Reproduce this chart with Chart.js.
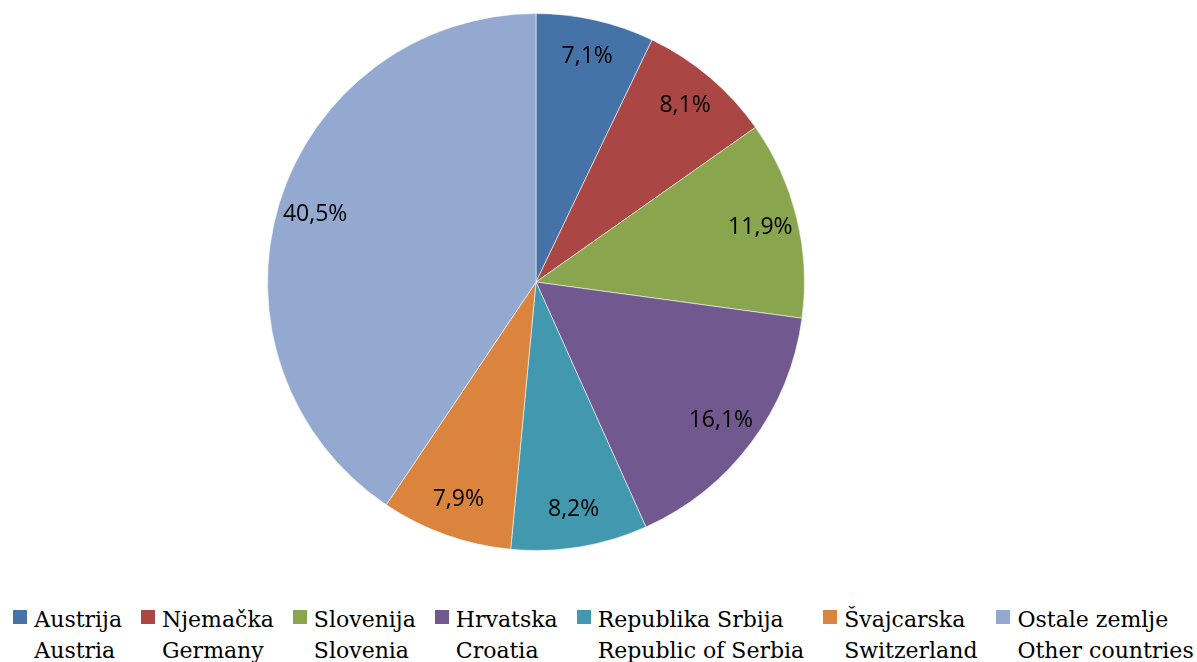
<!DOCTYPE html>
<html>
<head>
<meta charset="utf-8">
<script src="https://cdn.jsdelivr.net/npm/chart.js@4"></script>
<style>
  html, body { margin: 0; padding: 0; background: #fff; }
  #wrap { position: relative; width: 1197px; height: 564px; }
  #legend {
    display: flex; justify-content: center; gap: 19px;
    margin-top: 40px; padding-left: 10px;
    font-family: "DejaVu Serif", serif; font-size: 22px; line-height: 31px; color: #000;
  }
  .item { display: flex; align-items: flex-start; white-space: nowrap; }
  .box { width: 14px; height: 14px; margin: 6px 7px 0 0; flex: none; }
</style>
</head>
<body>
<div id="wrap"><canvas id="pie"></canvas></div>
<div id="legend"></div>
<script>
const namesLocal = ["Austrija", "Njemačka", "Slovenija", "Hrvatska", "Republika Srbija", "Švajcarska", "Ostale zemlje"]
const namesEnglish = ["Austria", "Germany", "Slovenia", "Croatia", "Republic of Serbia", "Switzerland", "Other countries"]
const shares = [7.1, 8.1, 11.9, 16.1, 8.2, 7.9, 40.5]
const colors = ['#4572A7', '#AA4643', '#89A54E', '#71588F', '#4198AF', '#DB843D', '#93A9CF']

// percent labels inside the slices
const sliceLabels = {
  id: 'sliceLabels',
  afterDatasetsDraw(chart) {
    const ctx = chart.ctx
    const meta = chart.getDatasetMeta(0)
    ctx.save()
    ctx.font = '23px "Open Sans"'
    ctx.fillStyle = '#000'
    ctx.textAlign = 'center'
    ctx.textBaseline = 'middle'
    meta.data.forEach((arc, i) => {
      const p = arc.getProps(['x', 'y', 'startAngle', 'endAngle', 'outerRadius'], true)
      const mid = (p.startAngle + p.endAngle) / 2
      const r = p.outerRadius * 0.86
      const txt = shares[i].toFixed(1).replace('.', ',') + '%'
      ctx.fillText(txt, p.x + Math.cos(mid) * r, p.y + Math.sin(mid) * r)
    })
    ctx.restore()
  }
}

const pieChart = new Chart(document.getElementById('pie'), {
  type: 'pie',
  data: {
    labels: namesLocal.map((n, i) => n + ' ' + namesEnglish[i]),
    datasets: [{
      data: shares,
      backgroundColor: colors,
      borderColor: 'rgba(255,255,255,0.55)',
      borderWidth: 1
    }]
  },
  options: {
    responsive: true,
    maintainAspectRatio: false,
    animation: false,
    layout: { padding: { top: 13, bottom: 13, left: 0, right: 125 } },
    plugins: {
      legend: { display: false },
      tooltip: { enabled: false }
    }
  },
  plugins: [sliceLabels]
})

const legend = document.getElementById('legend')
namesLocal.forEach((n, i) => {
  const item = document.createElement('div')
  item.className = 'item'
  item.innerHTML = '<span class="box" style="background:' + colors[i] + '"></span><span>' + n + '<br>' + namesEnglish[i] + '</span>'
  legend.appendChild(item)
})
</script>
</body>
</html>
